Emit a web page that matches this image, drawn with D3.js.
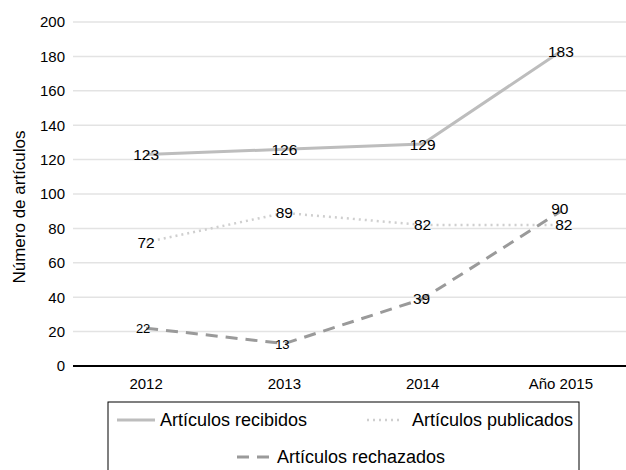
<!DOCTYPE html>
<html><head><meta charset="utf-8">
<script src="https://cdn.jsdelivr.net/npm/d3@7"></script>
<style>body{margin:0;background:#fff}svg{display:block}text{font-family:"Liberation Sans",Arial,sans-serif;fill:#000}</style>
</head><body><svg id="c" width="626" height="470"></svg>
<script>
const categories = ["2012","2013","2014","Año 2015"];
const recibidos = [123,126,129,183];
const publicados = [72,89,82,82];
const rechazados = [22,13,39,90];
const yTicks = [0,20,40,60,80,100,120,140,160,180,200];
const seriesNames = ["Artículos recibidos","Artículos publicados","Artículos rechazados"];

const svg = d3.select("#c");
const x = d3.scaleBand().domain(categories).range([77,630]);
const y = d3.scaleLinear().domain([0,200]).range([366,22]);
const cx = c => x(c) + x.bandwidth()/2;

// gridlines
svg.append("g").selectAll("line").data(yTicks.filter(t=>t>0)).join("line")
  .attr("x1",73).attr("x2",626).attr("y1",d=>y(d)).attr("y2",d=>y(d))
  .attr("stroke","#e3e3e3").attr("stroke-width",1.5);

// y axis
const ya = svg.append("g").attr("transform","translate(73,0)")
  .call(d3.axisLeft(y).tickValues(yTicks).tickSize(0).tickPadding(8));
ya.select(".domain").remove();
ya.selectAll("text").attr("font-size",15).style("font-family","Liberation Sans, Arial, sans-serif");

// x axis
const xa = svg.append("g").attr("transform","translate(0,366)")
  .call(d3.axisBottom(x).tickSize(0).tickPadding(12));
xa.select(".domain").remove();
xa.selectAll("text").attr("font-size",15).style("font-family","Liberation Sans, Arial, sans-serif");
svg.append("line").attr("x1",73).attr("x2",626).attr("y1",366).attr("y2",366)
  .attr("stroke","#000").attr("stroke-width",2);

// y label
svg.append("text").attr("transform","translate(19,207) rotate(-90)")
  .attr("text-anchor","middle").attr("font-size",17).attr("dy","0.35em").text("Número de artículos");

const styles = [
  {data:recibidos, color:"#bdbdbd", w:3, dash:null},
  {data:publicados, color:"#cfcfcf", w:2.5, dash:"2,4"},
  {data:rechazados, color:"#9a9a9a", w:3, dash:"12,8"}
];
const line = d3.line().x((d,i)=>cx(categories[i])).y(d=>y(d));
styles.forEach(s=>{
  svg.append("path").attr("d",line(s.data)).attr("fill","none")
    .attr("stroke",s.color).attr("stroke-width",s.w)
    .attr("stroke-dasharray",s.dash).attr("stroke-linecap","butt");
});

// data labels
function labels(data, opts){
  svg.append("g").selectAll("text").data(data).join("text")
    .attr("x",(d,i)=>cx(categories[i]) + (opts.dx ? opts.dx[i] : 0))
    .attr("y",(d,i)=>y(d) + (opts.dy ? opts.dy[i] : 0))
    .attr("dy","0.35em").attr("text-anchor","middle")
    .attr("font-size",(d,i)=>opts.fs ? opts.fs[i] : 15.5)
    .text(d=>d);
}
labels(recibidos,{});
labels(publicados,{dx:[0,0,0,3]});
labels(rechazados,{dx:[-3,-2,-1,-1],dy:[0,1,0,-3],fs:[13,13,15.5,15.5]});

// legend
svg.append("rect").attr("x",108).attr("y",402).attr("width",471).attr("height",80)
  .attr("fill","none").attr("stroke","#000").attr("stroke-width",1);
const leg = [
  {x1:117,x2:155,tx:160,y:420,s:styles[0],name:seriesNames[0]},
  {x1:367,x2:401,tx:412,y:420,s:styles[1],name:seriesNames[1]},
  {x1:237,x2:271,tx:277,y:457,s:styles[2],name:seriesNames[2]}
];
leg.forEach(l=>{
  svg.append("line").attr("x1",l.x1).attr("x2",l.x2).attr("y1",l.y).attr("y2",l.y)
    .attr("stroke",l.s.color).attr("stroke-width",l.s.w).attr("stroke-dasharray",l.s.dash);
  svg.append("text").attr("x",l.tx).attr("y",l.y).attr("dy","0.35em")
    .attr("font-size",18).text(l.name);
});
</script></body></html>
